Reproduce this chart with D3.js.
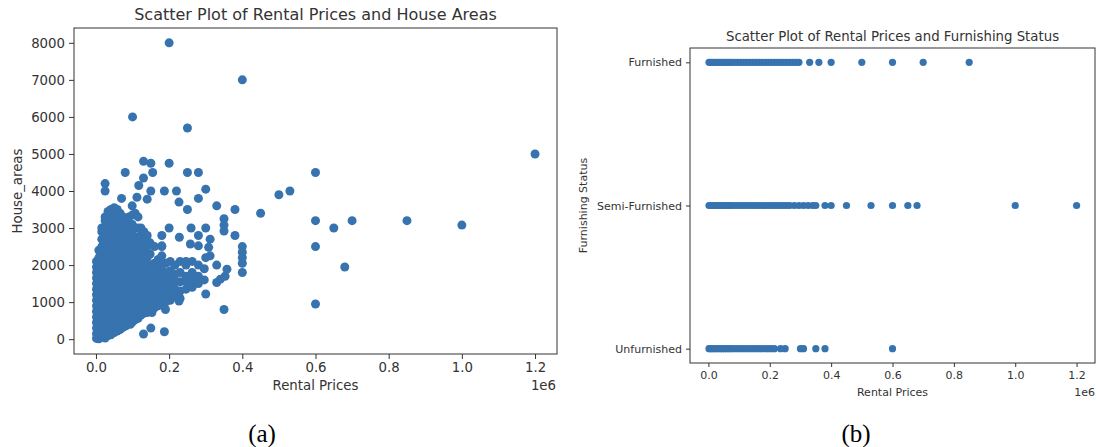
<!DOCTYPE html>
<html>
<head>
<meta charset="utf-8">
<script src="https://cdn.jsdelivr.net/npm/d3@7"></script>
<style>
  body { margin: 0; background: #fff; }
</style>
</head>
<body>
<div id="chart"></div>
<script>
// ---- data ----

// dense cluster of panel (a): each row is [rent, [house areas seen at that rent]]
const denseColumns = [
    [1500, [20, 150, 300, 450, 600, 750, 900, 1050, 1200, 1350, 1500, 1650, 1800, 1950, 2100]],
    [8000, [10, 200, 400, 600, 800, 1000, 1200, 1400, 1600, 1800, 2000, 2200, 2400]],
    [16000, [100, 300, 500, 700, 900, 1100, 1300, 1500, 1700, 1900, 2100, 2300, 2500, 2700, 2900, 3000]],
    [25000, [30, 200, 400, 600, 800, 1000, 1200, 1400, 1600, 1800, 2000, 2200, 2400, 2600, 2800, 3000, 3200, 3300]],
    [33000, [100, 300, 500, 700, 900, 1100, 1300, 1500, 1700, 1900, 2100, 2300, 2500, 2700, 2900, 3100, 3300, 3450]],
    [41000, [120, 350, 550, 750, 950, 1150, 1350, 1550, 1750, 1950, 2150, 2350, 2550, 2750, 2950, 3150, 3350, 3500]],
    [50000, [180, 400, 600, 800, 1000, 1200, 1400, 1600, 1800, 2000, 2200, 2400, 2600, 2800, 3000, 3200, 3400, 3550]],
    [58000, [220, 450, 650, 850, 1050, 1250, 1450, 1650, 1850, 2050, 2250, 2450, 2650, 2850, 3050, 3250, 3500]],
    [66000, [260, 500, 700, 900, 1100, 1300, 1500, 1700, 1900, 2100, 2300, 2500, 2700, 2900, 3100, 3400]],
    [74000, [320, 550, 750, 950, 1150, 1350, 1550, 1750, 1950, 2150, 2350, 2550, 2750, 2950, 3300]],
    [82000, [360, 600, 800, 1000, 1200, 1400, 1600, 1800, 2000, 2200, 2400, 2600, 2800, 3000, 3200]],
    [90000, [420, 650, 850, 1050, 1250, 1450, 1650, 1850, 2050, 2250, 2450, 2650, 2850, 3050, 3300]],
    [99000, [460, 700, 900, 1100, 1300, 1500, 1700, 1900, 2100, 2300, 2500, 2700, 2900, 3100, 3350, 3600]],
    [107000, [520, 750, 950, 1150, 1350, 1550, 1750, 1950, 2150, 2350, 2550, 2750, 3000, 3400]],
    [115000, [560, 800, 1000, 1200, 1400, 1600, 1800, 2000, 2200, 2400, 2700, 3000, 3300]],
    [123000, [650, 850, 1050, 1250, 1450, 1650, 1850, 2050, 2250, 2500, 2800, 3000]],
    [131000, [700, 900, 1100, 1300, 1500, 1700, 1900, 2100, 2300, 2600, 2900]],
    [140000, [720, 950, 1150, 1350, 1550, 1750, 1950, 2200, 2500, 2800]],
    [148000, [800, 1000, 1200, 1400, 1600, 1800, 2000, 2300, 2600]],
    [160000, [850, 1050, 1250, 1450, 1650, 1850, 2050, 2500]],
    [170000, [900, 1100, 1300, 1500, 1700, 1900, 2150]],
    [180000, [950, 1150, 1350, 1550, 1750, 2000, 2250, 2500, 2800]],
    [190000, [1000, 1200, 1400, 1600, 1800, 2050]],
    [203000, [1050, 1250, 1450, 1650, 1850, 2100]],
    [216000, [1150, 1350, 1550, 1750, 2000]],
    [230000, [1100, 1300, 1550, 1800, 2100]],
    [246000, [1350, 1550, 1700, 2000, 2100]],
    [263000, [1400, 1600, 1800, 2100]],
    [280000, [1500, 1700, 2000]],
    [296000, [1600, 1900]]
];

// scattered points of panel (a): [rent, house area]
const scatteredPoints = [
    [200000, 8000], [400000, 7000], [100000, 6000], [250000, 5700], [1200000, 5000],
    [130000, 4800], [150000, 4750], [200000, 4750], [80000, 4500], [155000, 4500],
    [250000, 4500], [280000, 4500], [600000, 4500], [130000, 4350], [25000, 4200],
    [117000, 4150], [25000, 4000], [150000, 4000], [187000, 4000], [220000, 4000],
    [300000, 4050], [530000, 4000], [500000, 3900], [70000, 3800], [112000, 3830],
    [140000, 3780], [280000, 3800], [227000, 3700], [330000, 3600], [250000, 3500],
    [380000, 3500], [450000, 3400], [350000, 3250], [350000, 3080], [350000, 2920],
    [380000, 2800], [600000, 3200], [650000, 3000], [700000, 3200], [850000, 3200],
    [1000000, 3080], [400000, 2500], [400000, 2350], [400000, 2200], [400000, 2050],
    [400000, 1800], [600000, 2500], [680000, 1950], [600000, 950], [350000, 800],
    [330000, 2000], [358000, 1890], [353000, 1700], [330000, 1530], [300000, 1220],
    [340000, 1620], [200000, 3000], [260000, 3000], [300000, 3000], [228000, 2750],
    [280000, 2800], [312000, 2700], [258000, 2570], [280000, 2520], [308000, 2480],
    [312000, 2250], [300000, 2200], [180000, 2520], [187000, 200], [150000, 300],
    [130000, 140], [94000, 400], [76000, 400], [126000, 720], [153000, 720],
    [190000, 800], [227000, 1030], [148000, 800], [254000, 1700]
];

// panel (b): rents seen in each furnishing row
const furnishingLevels = ['Unfurnished', 'Semi-Furnished', 'Furnished'];
const furnishedRents = [2000, 8000, 15000, 22000, 30000, 38000, 45000, 52000, 60000, 68000, 75000,
    85000, 95000, 105000, 115000, 125000, 135000, 145000, 155000, 165000, 175000, 185000, 195000,
    205000, 215000, 225000, 235000, 245000, 255000, 265000, 275000, 285000, 295000,
    330000, 360000, 400000, 500000, 600000, 700000, 850000];
const semiFurnishedRents = [2000, 8000, 15000, 22000, 30000, 38000, 45000, 52000, 60000, 68000, 75000,
    85000, 95000, 105000, 115000, 125000, 135000, 145000, 155000, 165000, 175000, 185000, 195000,
    205000, 215000, 225000, 235000, 245000, 255000, 265000, 280000, 295000, 310000, 325000, 340000, 350000,
    380000, 400000, 450000, 530000, 600000, 650000, 680000, 1000000, 1200000];
const unfurnishedRents = [2000, 8000, 15000, 22000, 30000, 38000, 45000, 52000, 60000, 68000, 75000,
    85000, 95000, 105000, 115000, 125000, 135000, 145000, 155000, 165000, 175000, 185000, 195000,
    205000, 215000, 235000, 250000, 300000, 310000, 350000, 380000, 600000];

const rentTicks = [0, 200000, 400000, 600000, 800000, 1000000, 1200000];
const areaTicks = [0, 1000, 2000, 3000, 4000, 5000, 6000, 7000, 8000];

const pointColor = '#3773af';
const inkColor = '#333';
const sansFont = '"DejaVu Sans", sans-serif';

const svg = d3.select('#chart').append('svg')
    .attr('width', 1097)
    .attr('height', 447)
    .attr('font-family', sansFont);

// Style a freshly called axis like matplotlib's
function styleAxis(g, fontSize) {
    g.attr('font-family', sansFont).attr('font-size', fontSize);
    g.select('.domain').remove();
    g.selectAll('.tick line').attr('stroke', inkColor);
    g.selectAll('.tick text').attr('fill', inkColor);
}

function drawFrame(x0, y0, x1, y1) {
    svg.append('rect')
        .attr('x', x0)
        .attr('y', y0)
        .attr('width', x1 - x0)
        .attr('height', y1 - y0)
        .attr('fill', 'none')
        .attr('stroke', inkColor)
        .attr('stroke-width', 1);
}

function addText(x, y, label, size, anchor = 'middle') {
    return svg.append('text')
        .attr('x', x)
        .attr('y', y)
        .attr('text-anchor', anchor)
        .attr('font-size', size)
        .attr('fill', inkColor)
        .text(label);
}

function drawAreaPlot() {
    const box = { left: 74, right: 557, top: 28, bottom: 354 };
    const x = d3.scaleLinear().domain([-60000, 1260000]).range([box.left, box.right]);
    const y = d3.scaleLinear().domain([-400, 8400]).range([box.bottom, box.top]);

    const points = [];
    denseColumns.forEach(([rent, areas]) => areas.forEach(a => points.push([rent, a])));
    scatteredPoints.forEach(p => points.push(p));

    svg.append('g').selectAll('circle')
        .data(points)
        .join('circle')
        .attr('cx', d => x(d[0]))
        .attr('cy', d => y(d[1]))
        .attr('r', 4.5)
        .attr('fill', pointColor);

    drawFrame(box.left, box.top, box.right, box.bottom);

    svg.append('g')
        .attr('transform', `translate(0, ${box.bottom})`)
        .call(d3.axisBottom(x).tickValues(rentTicks).tickFormat(d => (d / 1e6).toFixed(1)).tickSize(5).tickPadding(4))
        .call(g => styleAxis(g, 13.3));

    svg.append('g')
        .attr('transform', `translate(${box.left}, 0)`)
        .call(d3.axisLeft(y).tickValues(areaTicks).tickFormat(d => d).tickSize(5).tickPadding(4))
        .call(g => styleAxis(g, 13.3));

    addText((box.left + box.right) / 2, 20, 'Scatter Plot of Rental Prices and House Areas', 16);
    addText((box.left + box.right) / 2, 390, 'Rental Prices', 13.3);
    addText(box.right - 1, 390, '1e6', 13.3, 'end');

    svg.append('text')
        .attr('transform', `translate(22, ${(box.top + box.bottom) / 2}) rotate(-90)`)
        .attr('text-anchor', 'middle')
        .attr('font-size', 13.3)
        .attr('fill', inkColor)
        .text('House_areas');
}

function drawFurnishPlot() {
    const box = { left: 690, right: 1095, top: 48, bottom: 363 };
    const x = d3.scaleLinear().domain([-60000, 1260000]).range([box.left, box.right]);
    const y = d3.scaleLinear().domain([-0.1, 2.1]).range([box.bottom, box.top]);

    const rows = [unfurnishedRents, semiFurnishedRents, furnishedRents];
    const points = [];
    rows.forEach((rents, i) => rents.forEach(r => points.push([r, i])));

    svg.append('g').selectAll('circle')
        .data(points)
        .join('circle')
        .attr('cx', d => x(d[0]))
        .attr('cy', d => y(d[1]))
        .attr('r', 3.6)
        .attr('fill', pointColor);

    drawFrame(box.left, box.top, box.right, box.bottom);

    svg.append('g')
        .attr('transform', `translate(0, ${box.bottom})`)
        .call(d3.axisBottom(x).tickValues(rentTicks).tickFormat(d => (d / 1e6).toFixed(1)).tickSize(4).tickPadding(4))
        .call(g => styleAxis(g, 11));

    svg.append('g')
        .attr('transform', `translate(${box.left}, 0)`)
        .call(d3.axisLeft(y).tickValues([0, 1, 2]).tickFormat(i => furnishingLevels[i]).tickSize(4).tickPadding(4))
        .call(g => styleAxis(g, 11));

    addText((box.left + box.right) / 2, 41, 'Scatter Plot of Rental Prices and Furnishing Status', 13.3);
    addText((box.left + box.right) / 2, 396, 'Rental Prices', 11);
    addText(box.right, 396, '1e6', 11, 'end');

    svg.append('text')
        .attr('transform', `translate(587, ${(box.top + box.bottom) / 2}) rotate(-90)`)
        .attr('text-anchor', 'middle')
        .attr('font-size', 11)
        .attr('fill', inkColor)
        .text('Furnishing Status');
}

// Sub-figure captions under each panel
function drawCaptions() {
    [['(a)', 262], ['(b)', 856]].forEach(([label, cx]) => {
        svg.append('text')
            .attr('x', cx)
            .attr('y', 442)
            .attr('text-anchor', 'middle')
            .attr('font-family', '"Liberation Serif", "Times New Roman", serif')
            .attr('font-size', 25)
            .attr('fill', '#000')
            .text(label);
    });
}

drawAreaPlot();
drawFurnishPlot();
drawCaptions();
</script>
</body>
</html>
